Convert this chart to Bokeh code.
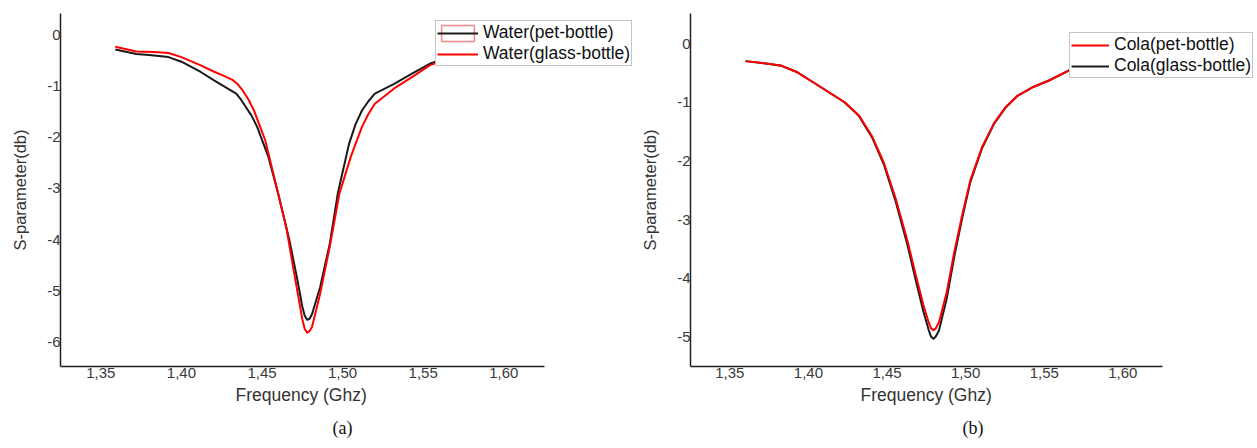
from bokeh.plotting import figure
from bokeh.layouts import row
from bokeh.models import Legend, LegendItem, FixedTicker, Title, ColumnDataSource
from bokeh.embed import file_html
from bokeh.resources import INLINE

# ---------------- data ----------------
x_ticks = [1.35, 1.40, 1.45, 1.50, 1.55, 1.60]
x_tick_labels = ["1,35", "1,40", "1,45", "1,50", "1,55", "1,60"]
y_ticks_a = [0, -1, -2, -3, -4, -5, -6]
y_ticks_b = [0, -1, -2, -3, -4, -5]

# panel (a) Water
freq_a_pet = [1.359, 1.372, 1.380, 1.392, 1.400, 1.412, 1.420, 1.427, 1.434, 1.437,
              1.4435, 1.447, 1.454, 1.460, 1.467, 1.472, 1.475, 1.4765, 1.478, 1.4795,
              1.481, 1.486, 1.492, 1.497, 1.504, 1.508, 1.512, 1.516, 1.520, 1.532,
              1.543, 1.554, 1.565]
s_a_pet = [-0.29, -0.38, -0.40, -0.44, -0.53, -0.73, -0.89, -1.02, -1.15, -1.27,
           -1.58, -1.80, -2.39, -3.10, -4.01, -4.79, -5.30, -5.48, -5.56, -5.54,
           -5.45, -4.93, -4.08, -3.10, -2.13, -1.75, -1.48, -1.30, -1.15, -0.96,
           -0.76, -0.57, -0.45]

freq_a_glass = [1.359, 1.372, 1.383, 1.392, 1.400, 1.412, 1.420, 1.426, 1.432, 1.435,
                1.438, 1.4415, 1.445, 1.452, 1.458, 1.465, 1.470, 1.475, 1.4765, 1.478,
                1.4795, 1.481, 1.486, 1.492, 1.498, 1.505, 1.509, 1.512, 1.516, 1.520,
                1.532, 1.543, 1.554, 1.565]
s_a_glass = [-0.24, -0.33, -0.34, -0.36, -0.44, -0.60, -0.72, -0.80, -0.89, -0.97,
             -1.09, -1.26, -1.48, -2.06, -2.84, -3.75, -4.66, -5.55, -5.74, -5.81,
             -5.78, -5.70, -5.06, -4.14, -3.10, -2.39, -2.05, -1.80, -1.55, -1.35,
             -1.05, -0.83, -0.60, -0.47]

# panel (b) Cola
freq_b = [1.360, 1.373, 1.383, 1.393, 1.403, 1.413, 1.423, 1.432, 1.4405, 1.448,
          1.4555, 1.463, 1.468, 1.473, 1.4765, 1.478, 1.4795, 1.481, 1.483, 1.488,
          1.493, 1.498, 1.503, 1.5105, 1.518, 1.5255, 1.533, 1.543, 1.553, 1.5655,
          1.572]
s_b_glass = [-0.30, -0.34, -0.38, -0.49, -0.66, -0.83, -1.00, -1.23, -1.60, -2.06,
             -2.69, -3.43, -4.00, -4.55, -4.88, -4.99, -5.03, -4.99, -4.89, -4.34,
             -3.60, -2.95, -2.36, -1.78, -1.37, -1.09, -0.89, -0.74, -0.63, -0.46,
             -0.40]
s_b_pet = [-0.30, -0.34, -0.38, -0.49, -0.66, -0.83, -1.00, -1.22, -1.58, -2.03,
           -2.64, -3.36, -3.91, -4.44, -4.75, -4.85, -4.88, -4.85, -4.75, -4.23,
           -3.52, -2.90, -2.33, -1.76, -1.36, -1.08, -0.89, -0.74, -0.63, -0.46,
           -0.40]

SANS = "Liberation Sans"
SERIF = "Liberation Serif"
RED = "#ff0000"
BLACK = "#1a1a1a"
X_START, X_END = 1.325, 1.625


def style(p, yticks):
    p.xaxis.ticker = FixedTicker(ticks=x_ticks)
    p.xaxis.major_label_overrides = {t: l for t, l in zip(x_ticks, x_tick_labels)}
    p.xaxis.bounds = (X_START, X_END)
    p.yaxis.ticker = FixedTicker(ticks=yticks)
    p.yaxis.major_label_overrides = {t: str(t) for t in yticks}
    for ax in (p.xaxis[0], p.yaxis[0]):
        ax.axis_line_color = "#222222"
        ax.axis_line_width = 1.5
        ax.major_tick_line_color = None
        ax.minor_tick_line_color = None
        ax.major_tick_out = 0
        ax.major_tick_in = 0
        ax.minor_tick_out = 0
        ax.minor_tick_in = 0
        ax.major_label_text_font = SANS
        ax.major_label_text_font_size = "15px"
        ax.major_label_text_color = "#3a3a3a"
        ax.axis_label_text_font = SANS
        ax.axis_label_text_font_size = "16.5px"
        ax.axis_label_text_font_style = "normal"
        ax.axis_label_text_color = "#333333"
    p.yaxis.major_label_standoff = 0
    p.xaxis.major_label_standoff = 1
    p.yaxis.axis_label_standoff = 15
    p.xgrid.visible = False
    p.ygrid.visible = False
    p.outline_line_color = None
    p.background_fill_color = "white"
    p.border_fill_color = "white"


def bottom_texts(p, xlabel, xlabel_offset, tag):
    p.add_layout(Title(text=xlabel, align="left", offset=xlabel_offset, text_font=SANS,
                       text_font_size="17.5px", text_font_style="normal",
                       text_color="#333333", standoff=4), "below")
    p.add_layout(Title(text=tag, align="left", offset=272, text_font=SERIF,
                       text_font_size="18px", text_font_style="normal",
                       text_color="#111111", standoff=19), "below")


def make_legend(items, loc, glyph_w):
    return Legend(items=items, location=loc, glyph_width=glyph_w, glyph_height=20,
                  label_height=20, label_standoff=5, spacing=0, padding=1, margin=0,
                  label_text_font=SANS, label_text_font_size="17.5px",
                  label_text_color="#111111", border_line_color="#8a8a8a",
                  border_line_width=1, background_fill_color="white",
                  background_fill_alpha=1)


# ---------------- panel (a) ----------------
pa = figure(width=638, height=448, x_range=(X_START, 1.6823), y_range=(-6.47, 0.41),
            output_backend="svg", toolbar_location=None,
            min_border_left=60, min_border_right=2, min_border_top=13, min_border_bottom=82,
            y_axis_label="S-parameter(db)")
style(pa, y_ticks_a)
src_a = ColumnDataSource(dict(xp=freq_a_pet, yp=s_a_pet))
src_ag = ColumnDataSource(dict(xg=freq_a_glass, yg=s_a_glass))
ra1 = pa.line("xp", "yp", source=src_a, line_color=BLACK, line_width=2, line_join="round")
ra2 = pa.line("xg", "yg", source=src_ag, line_color=RED, line_width=2, line_join="round")
# pinkish frame drawn around the first legend swatch (no data point of its own)
box_src = ColumnDataSource(dict(bx=[float("nan")], by=[float("nan")]))
box_a = pa.rect(x="bx", y="by", width=0.01, height=0.1, source=box_src, fill_alpha=0,
                line_color="#f08a8a", line_width=1.5)
pa.add_layout(make_legend([LegendItem(label="Water(pet-bottle)", renderers=[box_a, ra1]),
                           LegendItem(label="Water(glass-bottle)", renderers=[ra2])],
                          (375, 300), 41), "center")
bottom_texts(pa, "Frequency (Ghz)", 175, "(a)")

# ---------------- panel (b) ----------------
pb = figure(width=617, height=448, x_range=(X_START, 1.6831), y_range=(-5.50, 0.511),
            output_backend="svg", toolbar_location=None,
            min_border_left=52, min_border_right=2, min_border_top=13, min_border_bottom=82,
            y_axis_label="S-parameter(db)")
style(pb, y_ticks_b)
src_b = ColumnDataSource(dict(x=freq_b, yg=s_b_glass, yp=s_b_pet))
rb_glass = pb.line("x", "yg", source=src_b, line_color=BLACK, line_width=2, line_join="round")
rb_pet = pb.line("x", "yp", source=src_b, line_color=RED, line_width=2, line_join="round")
pb.add_layout(make_legend([LegendItem(label="Cola(pet-bottle)", renderers=[rb_pet]),
                           LegendItem(label="Cola(glass-bottle)", renderers=[rb_glass])],
                          (379, 288), 38), "center")
bottom_texts(pb, "Frequency (Ghz)", 170, "(b)")

layout = row(pa, pb, spacing=0)
open("out.html", "w").write(file_html(layout, INLINE))
